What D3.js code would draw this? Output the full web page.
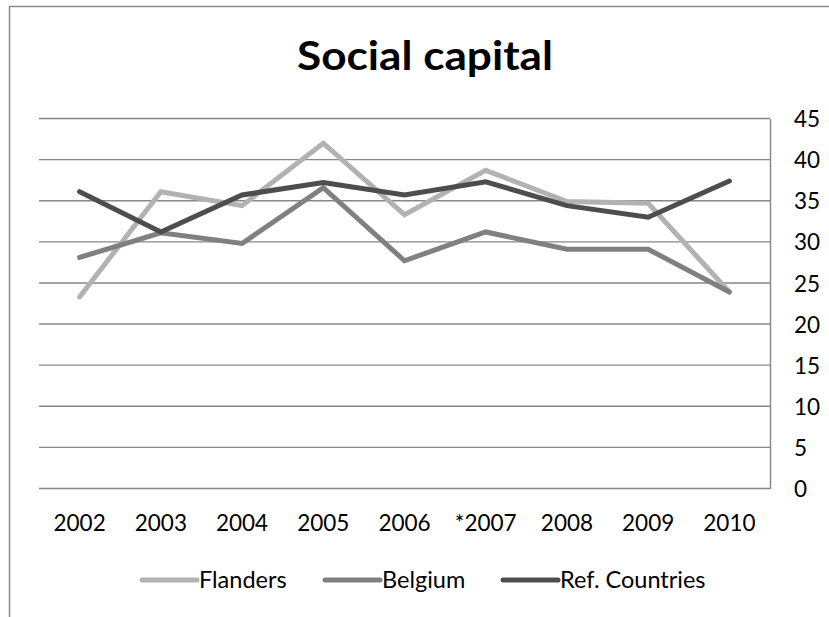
<!DOCTYPE html>
<html>
<head>
<meta charset="utf-8">
<script src="https://cdn.jsdelivr.net/npm/d3@7"></script>
<style>
  html, body { margin: 0; padding: 0; background: #fff; }
  svg { display: block; }
</style>
</head>
<body>
<svg id="chart" width="829" height="617"></svg>
<script>
// Survey years (2007 marked with an asterisk in the source series)
const years = ["2002", "2003", "2004", "2005", "2006", "*2007", "2008", "2009", "2010"];

// Social capital index per year
const flanders     = [23.3, 36.1, 34.4, 42.0, 33.3, 38.7, 34.9, 34.7, 23.9];
const belgium      = [28.1, 31.1, 29.8, 36.6, 27.7, 31.2, 29.1, 29.1, 23.9];
const refCountries = [36.1, 31.2, 35.7, 37.2, 35.7, 37.3, 34.4, 33.0, 37.4];

const seriesNames  = ["Flanders", "Belgium", "Ref. Countries"];
const seriesColors = ["#b2b2b2", "#808080", "#4d4d4d"];
const yTicks = [0, 5, 10, 15, 20, 25, 30, 35, 40, 45];

const series = [flanders, belgium, refCountries].map((values, i) => ({
  name: seriesNames[i], color: seriesColors[i], values
}));

const svg = d3.select("#chart");
const font = "Lato, 'Open Sans', sans-serif";

// Chart frame
svg.append("path")
  .attr("d", "M9.5,620 V6.5 H840")
  .attr("fill", "none")
  .attr("stroke", "#8a8a8a")
  .attr("stroke-width", 1.5);

// Title
svg.append("text")
  .attr("x", 425).attr("y", 70)
  .attr("text-anchor", "middle")
  .attr("font-family", font)
  .attr("font-weight", 700)
  .attr("font-size", 41)
  .attr("textLength", 256)
  .attr("lengthAdjust", "spacingAndGlyphs")
  .attr("fill", "#000")
  .text("Social capital");

const plot = { left: 39, right: 770, top: 118.5, bottom: 488.5 };

const x = d3.scaleBand()
  .domain(years)
  .range([plot.left, plot.right]);

const y = d3.scaleLinear()
  .domain([0, 45])
  .range([plot.bottom, plot.top]);

// Horizontal gridlines
svg.append("g")
  .selectAll("line")
  .data(yTicks)
  .join("line")
  .attr("x1", plot.left).attr("x2", plot.right)
  .attr("y1", d => y(d)).attr("y2", d => y(d))
  .attr("stroke", "#878787")
  .attr("stroke-width", 1.4);

// Right-hand value axis
const yAxis = svg.append("g")
  .attr("transform", `translate(${plot.right},0)`)
  .call(d3.axisRight(y).tickValues(yTicks).tickSize(0).tickPadding(24));
yAxis.select(".domain")
  .attr("stroke", "#878787")
  .attr("stroke-width", 1.4);
yAxis.selectAll("text")
  .attr("font-family", font)
  .attr("font-size", 22.5)
  .attr("fill", "#000")
  .attr("dy", "0.36em");

// Category axis labels
const xAxis = svg.append("g")
  .attr("transform", `translate(0,${plot.bottom})`)
  .call(d3.axisBottom(x).tickSize(0).tickPadding(27));
xAxis.select(".domain").remove();
xAxis.selectAll("text")
  .attr("font-family", font)
  .attr("font-size", 22.5)
  .attr("fill", "#000");

// Series lines
const line = d3.line()
  .x((d, i) => x(years[i]) + x.bandwidth() / 2)
  .y(d => y(d));

svg.append("g")
  .selectAll("path")
  .data(series)
  .join("path")
  .attr("d", d => line(d.values))
  .attr("fill", "none")
  .attr("stroke", d => d.color)
  .attr("stroke-width", 5)
  .attr("stroke-linejoin", "miter")
  .attr("stroke-linecap", "round");

// Legend
const legendX = [142, 325, 503];
const legend = svg.append("g")
  .selectAll("g")
  .data(series)
  .join("g")
  .attr("transform", (d, i) => `translate(${legendX[i]},580)`);
legend.append("line")
  .attr("x1", 0).attr("x2", 55)
  .attr("stroke", d => d.color)
  .attr("stroke-width", 5)
  .attr("stroke-linecap", "round");
legend.append("text")
  .attr("x", 57).attr("y", 0)
  .attr("dy", "0.36em")
  .attr("font-family", font)
  .attr("font-size", 23.5)
  .attr("fill", "#000")
  .text(d => d.name);
</script>
</body>
</html>
